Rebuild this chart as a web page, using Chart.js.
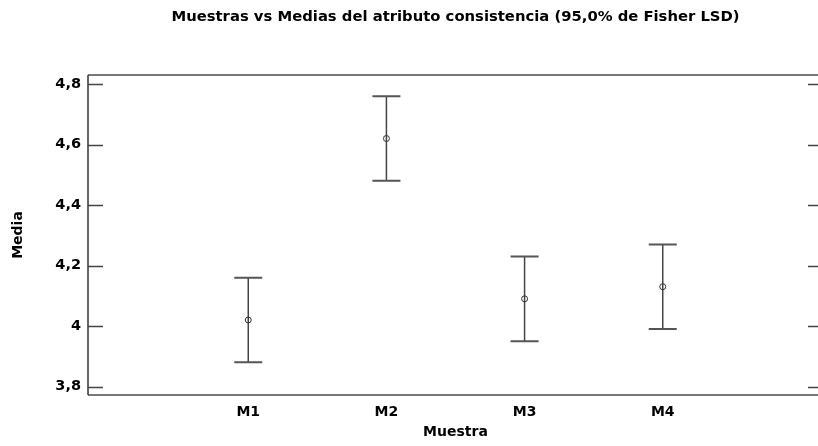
<!DOCTYPE html>
<html>
<head>
<meta charset="utf-8">
<script src="https://cdn.jsdelivr.net/npm/chart.js@4"></script>
<style>
  html, body { margin: 0; padding: 0; background: #fff; overflow: hidden; }
  #wrap { width: 840px; height: 446px; }
</style>
</head>
<body>
<div id="wrap"><canvas id="chart-medias"></canvas></div>
<script>
// datos (LSD 95%)
const categories = ["M1", "M2", "M3", "M4"];
const means = [4.02, 4.62, 4.09, 4.13];
const lower = [3.88, 4.48, 3.95, 3.99];
const upper = [4.16, 4.76, 4.23, 4.27];
const yTicks = [3.8, 4.0, 4.2, 4.4, 4.6, 4.8];
const chartTitle = "Muestras vs Medias del atributo consistencia (95,0% de Fisher LSD)";

const FONT = "'DejaVu Sans', Verdana, sans-serif";

function fmtComma(v) {
  return String(Number(v.toFixed(1))).replace(".", ",");
}

// marco + ticks hacia dentro + barras de error + título centrado en el área
const framePlugin = {
  id: "frame",
  beforeDatasetsDraw(chart) {
    const { ctx, scales } = chart;
    const x = scales.x, y = scales.y;
    ctx.save();

    // barras de error
    for (let i = 0; i < categories.length; i++) {
      const px = x.getPixelForValue(i + 1);
      const yt = y.getPixelForValue(upper[i]);
      const yb = y.getPixelForValue(lower[i]);
      ctx.strokeStyle = "#444";
      ctx.lineWidth = 1.5;
      ctx.beginPath();
      ctx.moveTo(px, yt);
      ctx.lineTo(px, yb);
      ctx.stroke();
      ctx.strokeStyle = "#555";
      ctx.lineWidth = 2;
      ctx.beginPath();
      ctx.moveTo(px - 14, yt);
      ctx.lineTo(px + 14, yt);
      ctx.moveTo(px - 14, yb);
      ctx.lineTo(px + 14, yb);
      ctx.stroke();
    }
    ctx.restore();
  },
  afterDraw(chart) {
    const { ctx, chartArea: a, scales } = chart;
    const y = scales.y;
    ctx.save();
    // título
    ctx.fillStyle = "#000";
    ctx.font = "bold 14.8px " + FONT;
    ctx.textAlign = "center";
    ctx.textBaseline = "middle";
    ctx.fillText(chartTitle, (a.left + a.right) / 2, 17);

    // bordes superior / inferior
    ctx.strokeStyle = "#777";
    ctx.lineWidth = 2;
    ctx.beginPath();
    ctx.moveTo(a.left, a.top);
    ctx.lineTo(a.right, a.top);
    ctx.moveTo(a.left, a.bottom);
    ctx.lineTo(a.right, a.bottom);
    ctx.moveTo(a.right, a.top);
    ctx.lineTo(a.right, a.bottom);
    ctx.stroke();
    // eje izquierdo
    ctx.strokeStyle = "#333";
    ctx.lineWidth = 1.5;
    ctx.beginPath();
    ctx.moveTo(a.left, a.top);
    ctx.lineTo(a.left, a.bottom);
    ctx.stroke();
    // ticks
    ctx.strokeStyle = "#444";
    ctx.lineWidth = 1.5;
    ctx.beginPath();
    yTicks.forEach(v => {
      const py = Math.round(y.getPixelForValue(v)) + 0.5;
      ctx.moveTo(a.left, py);
      ctx.lineTo(a.left + 15, py);
      ctx.moveTo(a.right - 15, py);
      ctx.lineTo(a.right, py);
    });
    ctx.stroke();
    ctx.restore();
  }
};

const ctx = document.getElementById("chart-medias").getContext("2d");

new Chart(ctx, {
  type: "scatter",
  data: {
    datasets: [{
      label: "Media",
      data: means.map((m, i) => ({ x: i + 1, y: m })),
      pointStyle: "circle",
      pointRadius: 3,
      pointBorderColor: "#333",
      pointBackgroundColor: "rgba(255,255,255,0)",
      pointBorderWidth: 1
    }]
  },
  options: {
    responsive: true,
    maintainAspectRatio: false,
    animation: false,
    layout: { padding: { left: 10, right: 17, top: 75, bottom: 5 } },
    plugins: {
      legend: { display: false },
      tooltip: { enabled: false },
      title: { display: false }
    },
    scales: {
      x: {
        type: "linear",
        min: -0.16,
        max: 5.16,
        afterBuildTicks: (scale) => {
          scale.ticks = categories.map((c, i) => ({ value: i + 1 }));
        },
        afterFit: (scale) => { scale.height = 46; },
        grid: { display: false, drawTicks: false },
        border: { display: false },
        ticks: {
          padding: 9,
          color: "#000",
          font: { family: FONT, size: 14, weight: "bold" },
          callback: (v, i) => categories[i]
        },
        title: {
          display: true,
          text: "Muestra",
          color: "#000",
          font: { family: FONT, size: 14, weight: "bold" },
          padding: 0
        }
      },
      y: {
        min: 3.772,
        max: 4.83,
        afterBuildTicks: (scale) => {
          scale.ticks = yTicks.map(v => ({ value: v }));
        },
        afterFit: (scale) => { scale.width = 78; },
        grid: { display: false, drawTicks: false },
        border: { display: false },
        ticks: {
          padding: 7,
          color: "#000",
          font: { family: FONT, size: 14.5, weight: "bold" },
          callback: (v) => fmtComma(v)
        },
        title: {
          display: true,
          text: "Media",
          color: "#000",
          font: { family: FONT, size: 14, weight: "bold" },
          padding: 0
        }
      }
    }
  },
  plugins: [framePlugin]
});
</script>
</body>
</html>
